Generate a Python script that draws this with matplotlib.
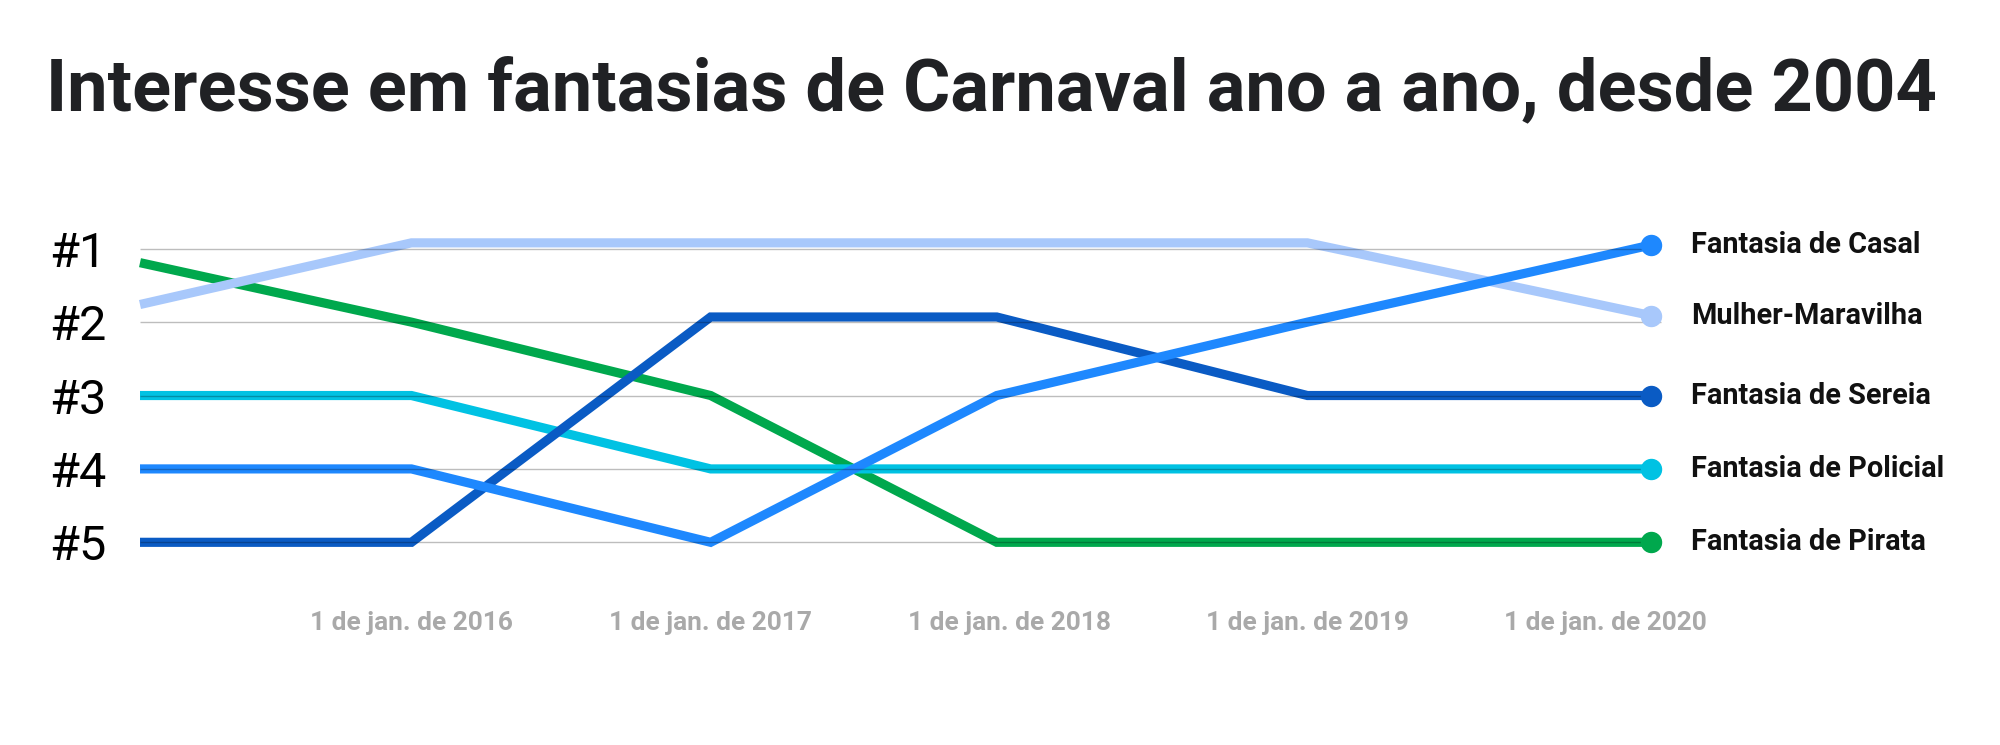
import matplotlib

matplotlib.use("Agg")

import matplotlib.pyplot as plt
import pandas as pd

# data (ranking, 1 = most searched)
DATES = ["2015-02-03", "2016-01-01", "2017-01-01", "2017-12-17", "2019-01-01", "2020-02-25"]
SERIES_NAMES = [
    "Fantasia de Casal",
    "Mulher-Maravilha",
    "Fantasia de Sereia",
    "Fantasia de Policial",
    "Fantasia de Pirata",
]
CASAL = [4, 4, 5, 3, 2, 0.95]
MULHER_MARAVILHA = [1.76, 0.92, 0.92, 0.92, 0.92, 1.91]
SEREIA = [5, 5, 1.93, 1.93, 3, 3]
POLICIAL = [3, 3, 4, 4, 4, 4]
PIRATA = [1.19, 2, 3, 5, 5, 5]

RANKS = [1, 2, 3, 4, 5]
RANK_LABELS = ["#1", "#2", "#3", "#4", "#5"]
TICK_DATES = ["2016-01-01", "2017-01-01", "2018-01-01", "2019-01-01", "2020-01-01"]
TICK_LABELS = [
    "1 de jan. de 2016",
    "1 de jan. de 2017",
    "1 de jan. de 2018",
    "1 de jan. de 2019",
    "1 de jan. de 2020",
]

COLORS = ["#1e88fe", "#a8c8fb", "#0a5bc4", "#00c2e3", "#00a84d"]
TITLE = "Interesse em fantasias de Carnaval ano a ano, desde 2004"


def main() -> None:
    plt.rcParams["font.family"] = ["Roboto", "DejaVu Sans"]

    x = pd.to_datetime(DATES)
    values = [CASAL, MULHER_MARAVILHA, SEREIA, POLICIAL, PIRATA]

    fig = plt.figure(figsize=(20, 7.45), dpi=100)
    ax = fig.add_axes([0.07, 0.2228, 0.7554, 0.4926])

    # draw bottom series first so the order on top roughly matches
    for name, ys, color in reversed(list(zip(SERIES_NAMES, values, COLORS))):
        ax.plot(x, ys, color=color, lw=6.6, solid_capstyle="butt",
                solid_joinstyle="miter", zorder=2, clip_on=False)
        ax.plot(x[-1], ys[-1], "o", color=color, ms=14.4, zorder=4, clip_on=False)
        ax.annotate(name, xy=(x[-1], ys[-1]), xytext=(29, 0), textcoords="offset points",
                    va="center", ha="left", fontsize=20.8, fontweight="bold",
                    color="#111111", annotation_clip=False)

    ax.hlines(RANKS, 0, 1.0066, transform=ax.get_yaxis_transform(), colors="black",
              alpha=0.26, lw=1.0, zorder=3, clip_on=False)

    ax.set_xlim(x[0], x[-1])
    ax.set_ylim(5.5, 0.5)
    ax.set_yticks(RANKS, RANK_LABELS)
    ax.set_xticks(pd.to_datetime(TICK_DATES), TICK_LABELS)
    ax.tick_params(axis="y", length=0, pad=24, labelsize=35, labelcolor="black")
    ax.tick_params(axis="x", length=0, pad=23, labelsize=18.9, labelcolor="#a9a9a9")
    for lbl in ax.get_xticklabels():
        lbl.set_fontweight("bold")
    for side in ax.spines.values():
        side.set_visible(False)

    fig.text(0.4958, 0.8523, TITLE, ha="center", va="baseline", fontsize=52,
             fontweight="bold", color="#202124")

    fig.savefig("out.png", dpi=100, facecolor="white")
    plt.close(fig)


if __name__ == "__main__":
    main()
